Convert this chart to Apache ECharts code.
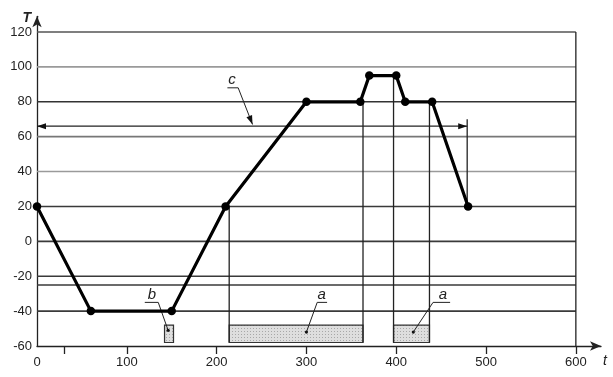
<!DOCTYPE html>
<html><head><meta charset="utf-8">
<script src="https://cdn.jsdelivr.net/npm/echarts@6/dist/echarts.min.js"></script>
<style>html,body{margin:0;padding:0;background:#fff}#c{width:613px;height:377px}</style>
</head><body><div id="c"></div>
<script>
// ---- data ----
const profileT    = [0, 60, 150, 210, 300, 360, 370, 400, 410, 440, 480];
const profileTemp = [20, -40, -40, 20, 80, 80, 95, 95, 80, 80, 20];
const xTickLabels = [0, 100, 200, 300, 400, 500, 600];
const xTickMarks  = [30, 100, 200, 300, 400, 500, 600];
const yTickLabels = [-60, -40, -20, 0, 20, 40, 60, 80, 100, 120];
const gridLevels  = [120, 100, 80, 60, 40, 20, 0, -20, -25, -40];
const gridShades  = ['#555', '#9a9a9a', '#333', '#777', '#9a9a9a', '#3a3a3a', '#3a3a3a', '#3a3a3a', '#3a3a3a', '#3a3a3a'];
const guideT      = [214, 363, 397, 437, 479, 600];
const guideTop    = [20, 80, 95, 80, 70, 120];
const guideBottom = [-58, -58, -58, -58, 20, -60];
const boxT0       = [142, 214, 397];
const boxT1       = [152, 363, 437];
const boxTop      = [-48, -48, -48];
const boxBottom   = [-58, -58, -58];
const noteLabels  = ['b', 'a', 'a', 'c'];
const noteTextT   = [128, 317, 452, 217];
const noteLineT0  = [120, 312, 441, 212];
const noteLineT1  = [135, 323, 460, 224];
const noteLineV   = [-35, -35, -35, 88];
const notePointT  = [146, 300, 419, 240];
const notePointV  = [-51, -52, -52, 67];
const noteEnd     = ['dot', 'dot', 'dot', 'arrow'];
const spanT       = [0, 479];
const spanV       = 66;

// ---- helpers ----
function arrowHead(tip, from, len, half) {
  const dx = tip[0] - from[0], dy = tip[1] - from[1], L = Math.hypot(dx, dy);
  const ux = dx / L, uy = dy / L;
  const bx = tip[0] - ux * len, by = tip[1] - uy * len;
  return { type: 'polygon', shape: { points: [tip, [bx - uy * half, by + ux * half], [bx + uy * half, by - ux * half]] }, style: { fill: '#111' } };
}
function mkPattern() {
  const c = document.createElement('canvas'); c.width = 3; c.height = 3;
  const g = c.getContext('2d');
  g.fillStyle = '#dedede'; g.fillRect(0, 0, 3, 3);
  g.fillStyle = '#a8a8a8'; g.fillRect(1, 1, 1, 1);
  return { image: c, repeat: 'repeat' };
}
const pattern = mkPattern();
const FONT = '"Liberation Sans", Arial, sans-serif';

const chart = echarts.init(document.getElementById('c'));
chart.setOption({
  animation: false,
  backgroundColor: '#fff',
  grid: { left: 37, right: 12, top: 16.3, bottom: 31, outerBoundsMode: 'none', containLabel: false },
  xAxis: {
    type: 'value', min: 0, max: 628,
    name: 't', nameLocation: 'end', nameGap: 2,
    nameTextStyle: { fontStyle: 'italic', fontSize: 14, color: '#222', fontFamily: FONT, align: 'left', verticalAlign: 'top', padding: [8, 0, 0, 0] },
    axisLine: { onZero: false, lineStyle: { color: '#222', width: 1.3 }, symbol: ['none', 'arrow'], symbolSize: [7, 11] },
    axisTick: { show: true, length: 8, customValues: xTickMarks, lineStyle: { color: '#222', width: 1.3 } },
    axisLabel: { customValues: xTickLabels, margin: 10, fontSize: 13, color: '#222', fontFamily: FONT },
    splitLine: { show: false }
  },
  yAxis: {
    type: 'value', min: -60, max: 129,
    name: 'T', nameLocation: 'end', nameGap: -2,
    nameTextStyle: { fontStyle: 'italic', fontWeight: 'bold', fontSize: 14, color: '#222', fontFamily: FONT, align: 'right', verticalAlign: 'middle', padding: [0, 6, 0, 0] },
    axisLine: { onZero: false, lineStyle: { color: '#222', width: 1.3 }, symbol: ['none', 'arrow'], symbolSize: [7, 11] },
    axisTick: { show: false },
    axisLabel: { customValues: yTickLabels, margin: 5, fontSize: 13, color: '#222', fontFamily: FONT },
    splitLine: { show: false }
  },
  series: [
    { // horizontal reference lines
      type: 'custom', silent: true, z: 1,
      data: gridLevels.map(v => [0, v]),
      renderItem: (params, api) => {
        const i = params.dataIndex;
        const p = api.coord([0, gridLevels[i]]), q = api.coord([600, gridLevels[i]]);
        return { type: 'line', shape: { x1: p[0], y1: p[1], x2: q[0], y2: q[1] }, style: { stroke: gridShades[i], lineWidth: 1.6 } };
      }
    },
    { // boxes
      type: 'custom', silent: true, z: 2,
      data: boxT0.map((t, i) => [t, boxTop[i]]),
      renderItem: (params, api) => {
        const i = params.dataIndex;
        const p = api.coord([boxT0[i], boxTop[i]]), q = api.coord([boxT1[i], boxBottom[i]]);
        return { type: 'rect', shape: { x: p[0], y: p[1], width: q[0] - p[0], height: q[1] - p[1] }, style: { fill: pattern, stroke: '#333', lineWidth: 1.2 } };
      }
    },
    { // vertical guide lines
      type: 'custom', silent: true, z: 3,
      data: guideT.map((t, i) => [t, guideTop[i]]),
      renderItem: (params, api) => {
        const i = params.dataIndex;
        const p = api.coord([guideT[i], guideTop[i]]), q = api.coord([guideT[i], guideBottom[i]]);
        return { type: 'line', shape: { x1: p[0], y1: p[1], x2: q[0], y2: q[1] }, style: { stroke: '#222', lineWidth: 1.3 } };
      }
    },
    { // span arrow c
      type: 'custom', silent: true, z: 4,
      data: [[spanT[0], spanV]],
      renderItem: (params, api) => {
        const p = api.coord([spanT[0], spanV]), q = api.coord([spanT[1], spanV]);
        return { type: 'group', children: [
          { type: 'line', shape: { x1: p[0], y1: p[1], x2: q[0], y2: q[1] }, style: { stroke: '#222', lineWidth: 1.2 } },
          arrowHead(p, q, 9, 3), arrowHead(q, p, 9, 3)
        ] };
      }
    },
    { // annotations
      type: 'custom', silent: true, z: 6,
      data: noteLabels.map((s, i) => [noteTextT[i], noteLineV[i]]),
      renderItem: (params, api) => {
        const i = params.dataIndex;
        const a = api.coord([noteLineT0[i], noteLineV[i]]), b = api.coord([noteLineT1[i], noteLineV[i]]);
        const tp = api.coord([noteTextT[i], noteLineV[i]]);
        const pt = api.coord([notePointT[i], notePointV[i]]);
        const start = notePointT[i] > (noteLineT0[i] + noteLineT1[i]) / 2 ? b : a;
        const kids = [
          { type: 'line', shape: { x1: a[0], y1: a[1], x2: b[0], y2: b[1] }, style: { stroke: '#222', lineWidth: 1 } },
          { type: 'line', shape: { x1: start[0], y1: start[1], x2: pt[0], y2: pt[1] }, style: { stroke: '#222', lineWidth: 1 } },
          { type: 'text', x: tp[0], y: tp[1], style: { text: noteLabels[i], fill: '#222', font: 'italic 15px ' + FONT, textAlign: 'center', textVerticalAlign: 'bottom' } }
        ];
        if (noteEnd[i] === 'dot') kids.push({ type: 'circle', shape: { cx: pt[0], cy: pt[1], r: 1.6 }, style: { fill: '#111' } });
        else kids.push(arrowHead(pt, start, 9, 3));
        return { type: 'group', children: kids };
      }
    },
    { // temperature profile
      type: 'line', z: 10,
      data: profileT.map((t, i) => [t, profileTemp[i]]),
      symbol: 'circle', symbolSize: 8.5,
      lineStyle: { color: '#000', width: 3.2 },
      itemStyle: { color: '#000' },
      emphasis: { disabled: true }
    }
  ]
});
</script>
</body></html>
